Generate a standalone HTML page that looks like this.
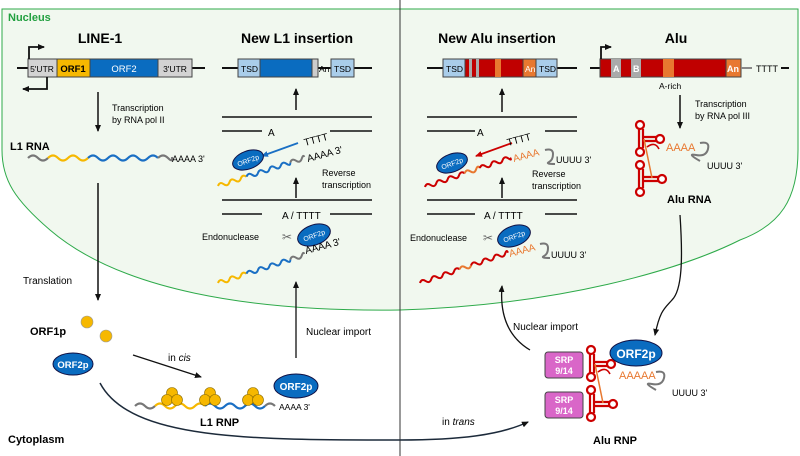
<!DOCTYPE html>
<html><head><meta charset="utf-8"><style>
body{margin:0;background:#fff}
svg{display:block;font-family:"Liberation Sans",Arial,sans-serif}
.b{font-weight:bold}
</style></head><body>
<svg width="800" height="456" viewBox="0 0 800 456" xmlns="http://www.w3.org/2000/svg">
<defs>
<marker id="ah" markerWidth="8" markerHeight="8" refX="6" refY="4" orient="auto" markerUnits="userSpaceOnUse"><path d="M0,1 L7,4 L0,7 z" fill="#111"/></marker>
<marker id="ab" markerWidth="8" markerHeight="8" refX="6" refY="4" orient="auto" markerUnits="userSpaceOnUse"><path d="M0,1 L7,4 L0,7 z" fill="#1a6fc4"/></marker>
<marker id="ar" markerWidth="8" markerHeight="8" refX="6" refY="4" orient="auto" markerUnits="userSpaceOnUse"><path d="M0,1 L7,4 L0,7 z" fill="#c00"/></marker>
</defs>
<!-- nucleus -->
<path d="M2,9 L798,9 L798,150 C798,200 780,225 740,240 C680,270 560,305 400,310 C250,312 120,290 50,230 C15,200 2,180 2,150 Z" fill="#f1f8ef" stroke="#2eaa4a" stroke-width="1"/>
<line x1="400" y1="0" x2="400" y2="456" stroke="#333" stroke-width="1"/>
<text x="8" y="21" class="b" fill="#22a040" font-size="11">Nucleus</text>
<text x="8" y="443" class="b" font-size="11">Cytoplasm</text>

<!-- LINE-1 -->
<text x="100" y="43" class="b" font-size="14" text-anchor="middle">LINE-1</text>
<line x1="17" y1="68" x2="205" y2="68" stroke="#111" stroke-width="2"/>
<rect x="28" y="59" width="29" height="18" fill="#d3d3d3" stroke="#444"/>
<rect x="57" y="59" width="33" height="18" fill="#f6b800" stroke="#444"/>
<rect x="90" y="59" width="68" height="18" fill="#0a6cc0" stroke="#444"/>
<rect x="158" y="59" width="34" height="18" fill="#d3d3d3" stroke="#444"/>
<g font-size="8.5" text-anchor="middle"><text x="42" y="72">5'UTR</text><text x="73" y="72" class="b" font-size="9.5">ORF1</text><text x="124" y="72" fill="#fff" font-size="9.5">ORF2</text><text x="175" y="72">3'UTR</text></g>
<path d="M29,59 V47 H44" fill="none" stroke="#111" stroke-width="1.8" marker-end="url(#ah)"/>
<path d="M47,77 V89 H23" fill="none" stroke="#111" stroke-width="1.8" marker-end="url(#ah)"/>
<line x1="98" y1="92" x2="98" y2="131" stroke="#111" stroke-width="1.5" marker-end="url(#ah)"/>
<g font-size="9"><text x="112" y="111">Transcription</text><text x="112" y="123">by RNA pol II</text></g>
<text x="10" y="150" class="b" font-size="11">L1 RNA</text>
<g fill="none" stroke-width="2.2">
<path d="M28,158 q5,-5 10,0 t10,0" stroke="#777"/>
<path d="M48,158 q5,-5 10,0 t10,0 t10,0 t10,0" stroke="#f6b800"/>
<path d="M88,158 q5,-5 10,0 t10,0 t10,0 t10,0 t10,0 t10,0 t10,0" stroke="#1a6fc4"/>
<path d="M158,158 q5,-5 10,0 t4,-1" stroke="#777"/>
</g>
<text x="172" y="162" font-size="9">AAAA 3'</text>
<line x1="98" y1="183" x2="98" y2="300" stroke="#111" stroke-width="1.5" marker-end="url(#ah)"/>
<text x="23" y="284" font-size="10">Translation</text>
<text x="30" y="335" class="b" font-size="11">ORF1p</text>
<circle cx="87" cy="322" r="6" fill="#f6b800" stroke="#999" stroke-width=".6"/>
<circle cx="106" cy="336" r="6" fill="#f6b800" stroke="#999" stroke-width=".6"/>
<ellipse cx="73" cy="364" rx="20" ry="11" fill="#0a6cc0" stroke="#114"/>
<text x="73" y="368" fill="#fff" font-size="9.5" text-anchor="middle" class="b">ORF2p</text>
<line x1="133" y1="355" x2="201" y2="377" stroke="#111" stroke-width="1.3" marker-end="url(#ah)"/>
<text x="168" y="361" font-size="10">in <tspan font-style="italic">cis</tspan></text>
<!-- L1 RNP -->
<g fill="none" stroke-width="2.2">
<path d="M135,406 q5,-5 10,0 t10,0" stroke="#777"/>
<path d="M155,406 q5,-5 10,0 t10,0 t10,0 t10,0 t10,0" stroke="#f6b800"/>
<path d="M205,406 q5,-5 10,0 t10,0 t10,0 t10,0 t10,0 t10,0" stroke="#1a6fc4"/>
<path d="M265,406 q5,-5 10,0" stroke="#777"/>
</g>
<g fill="#f6b800" stroke="#8a6a00" stroke-width=".6">
<circle cx="172" cy="393" r="5.5"/><circle cx="167" cy="400" r="5.5"/><circle cx="177" cy="400" r="5.5"/>
<circle cx="210" cy="393" r="5.5"/><circle cx="205" cy="400" r="5.5"/><circle cx="215" cy="400" r="5.5"/>
<circle cx="253" cy="393" r="5.5"/><circle cx="248" cy="400" r="5.5"/><circle cx="258" cy="400" r="5.5"/>
</g>
<ellipse cx="296" cy="386" rx="22" ry="12" fill="#0a6cc0" stroke="#114"/>
<text x="296" y="390" fill="#fff" font-size="10" text-anchor="middle" class="b">ORF2p</text>
<text x="279" y="410" font-size="8.5">AAAA 3'</text>
<text x="200" y="426" class="b" font-size="11">L1 RNP</text>
<path d="M100,383 C130,440 250,440 400,440 C460,440 500,435 528,422" fill="none" stroke="#1c2a3a" stroke-width="1.5" marker-end="url(#ah)"/>
<text x="442" y="425" font-size="10">in <tspan font-style="italic">trans</tspan></text>
<line x1="296" y1="358" x2="296" y2="282" stroke="#111" stroke-width="1.3" marker-end="url(#ah)"/>
<text x="306" y="335" font-size="10">Nuclear import</text>

<!-- New L1 insertion -->
<text x="297" y="43" class="b" font-size="14" text-anchor="middle">New L1 insertion</text>
<line x1="222" y1="68" x2="372" y2="68" stroke="#111" stroke-width="2"/>
<rect x="238" y="59" width="22" height="18" fill="#a9cdea" stroke="#444"/>
<rect x="260" y="59" width="52" height="18" fill="#0a6cc0" stroke="#444"/>
<rect x="312" y="59" width="6" height="18" fill="#ccc" stroke="#444"/>
<rect x="331" y="59" width="23" height="18" fill="#a9cdea" stroke="#444"/>
<g font-size="8.5"><text x="241" y="72">TSD</text><text x="319" y="72">An</text><text x="334" y="72">TSD</text></g>
<g stroke="#111" stroke-width="1.5">
<line x1="296" y1="110" x2="296" y2="89" marker-end="url(#ah)"/>
<line x1="222" y1="117" x2="372" y2="117"/><line x1="222" y1="131" x2="262" y2="131"/><line x1="330" y1="131" x2="372" y2="131"/>
<line x1="296" y1="198" x2="296" y2="178" marker-end="url(#ah)"/>
<line x1="222" y1="200" x2="372" y2="200"/><line x1="222" y1="214" x2="262" y2="214"/><line x1="330" y1="214" x2="372" y2="214"/>
</g>
<text x="268" y="136" font-size="10">A</text>
<text x="282" y="219" font-size="10">A / TTTT</text>
<line x1="298" y1="143" x2="262" y2="156" stroke="#1a6fc4" stroke-width="1.8" marker-end="url(#ab)"/>
<text x="305" y="146" font-size="10" transform="rotate(-15 305 146)">TTTT</text>
<text x="308" y="162" font-size="10" transform="rotate(-15 308 162)">AAAA 3'</text>
<g fill="none" stroke-width="2" transform="translate(218,186) rotate(-18)">
<path d="M0,0 q3,-4 6,0 t6,0 t6,0 t6,0 t6,0" stroke="#f6b800"/>
<path d="M30,0 q3,-4 6,0 t6,0 t6,0 t6,0 t6,0 t6,0 t6,0 t4,0" stroke="#1a6fc4"/>
<path d="M76,0 q3,-4 6,0 t6,0 t3,-1" stroke="#777"/>
</g>
<ellipse cx="248" cy="160" rx="16" ry="9" fill="#0a6cc0" stroke="#114" transform="rotate(-20 248 160)"/>
<text x="248" y="163" font-size="7" fill="#fff" text-anchor="middle" transform="rotate(-20 248 160)">ORF2p</text>
<g font-size="9"><text x="322" y="176">Reverse</text><text x="322" y="188">transcription</text></g>
<text x="202" y="240" font-size="9">Endonuclease</text>
<text x="287" y="241" font-size="12" fill="#666" text-anchor="middle">✂</text>
<g fill="none" stroke-width="2" transform="translate(218,283) rotate(-18)">
<path d="M0,0 q3,-4 6,0 t6,0 t6,0 t6,0 t6,0" stroke="#f6b800"/>
<path d="M30,0 q3,-4 6,0 t6,0 t6,0 t6,0 t6,0 t6,0 t6,0 t4,0" stroke="#1a6fc4"/>
<path d="M76,0 q3,-4 6,0 t6,0 t3,-1" stroke="#777"/>
</g>
<ellipse cx="314" cy="235" rx="17" ry="10" fill="#0a6cc0" stroke="#114" transform="rotate(-20 314 235)"/>
<text x="314" y="238" font-size="7" fill="#fff" text-anchor="middle" transform="rotate(-20 314 235)">ORF2p</text>
<text x="306" y="254" font-size="10" transform="rotate(-15 306 254)">AAAA 3'</text>

<!-- New Alu insertion -->
<text x="497" y="43" class="b" font-size="14" text-anchor="middle">New Alu insertion</text>
<line x1="427" y1="68" x2="577" y2="68" stroke="#111" stroke-width="2"/>
<rect x="443" y="59" width="22" height="18" fill="#a9cdea" stroke="#444"/>
<rect x="465" y="59" width="71" height="18" fill="#c00000" stroke="#444"/>
<rect x="469" y="59" width="3" height="18" fill="#aaa"/><rect x="476" y="59" width="3" height="18" fill="#aaa"/>
<rect x="495" y="59" width="6" height="18" fill="#e87830"/>
<rect x="523" y="59" width="13" height="18" fill="#e87830" stroke="#444"/>
<rect x="536" y="59" width="21" height="18" fill="#a9cdea" stroke="#444"/>
<g font-size="8.5"><text x="446" y="72">TSD</text><text x="525" y="72" fill="#fff">An</text><text x="539" y="72">TSD</text></g>
<g stroke="#111" stroke-width="1.5">
<line x1="502" y1="112" x2="502" y2="89" marker-end="url(#ah)"/>
<line x1="427" y1="117" x2="577" y2="117"/><line x1="427" y1="131" x2="475" y2="131"/><line x1="545" y1="131" x2="577" y2="131"/>
<line x1="502" y1="198" x2="502" y2="178" marker-end="url(#ah)"/>
<line x1="427" y1="200" x2="577" y2="200"/><line x1="427" y1="214" x2="475" y2="214"/><line x1="545" y1="214" x2="577" y2="214"/>
</g>
<text x="477" y="136" font-size="10">A</text>
<text x="484" y="219" font-size="10">A / TTTT</text>
<line x1="512" y1="143" x2="476" y2="156" stroke="#c00" stroke-width="1.8" marker-end="url(#ar)"/>
<text x="508" y="146" font-size="10" transform="rotate(-15 508 146)">TTTT</text>
<text x="514" y="162" font-size="10" fill="#e87830" transform="rotate(-15 514 162)">AAAA</text>
<path d="M545,150 q8,-2 8,4 t-4,8 t6,2" fill="none" stroke="#777" stroke-width="2"/>
<text x="556" y="163" font-size="9">UUUU 3'</text>
<g fill="none" stroke-width="2" transform="translate(425,187) rotate(-19)">
<path d="M0,0 q3,-4 6,0 t6,0 t6,0 t6,0 t6,0 t6,0 t6,0" stroke="#c00"/>
<path d="M42,0 q3,-4 6,0 t6,0 t4,0" stroke="#e87830"/>
<path d="M58,0 q3,-4 6,0 t6,0 t6,0 t6,0 t6,0 t2,0" stroke="#c00"/>
</g>
<ellipse cx="452" cy="163" rx="16" ry="9" fill="#0a6cc0" stroke="#114" transform="rotate(-20 452 163)"/>
<text x="452" y="166" font-size="7" fill="#fff" text-anchor="middle" transform="rotate(-20 452 163)">ORF2p</text>
<g font-size="9"><text x="532" y="177">Reverse</text><text x="532" y="189">transcription</text></g>
<text x="410" y="241" font-size="9">Endonuclease</text>
<text x="488" y="242" font-size="12" fill="#666" text-anchor="middle">✂</text>
<ellipse cx="514" cy="236" rx="17" ry="10" fill="#0a6cc0" stroke="#114" transform="rotate(-20 514 236)"/>
<text x="514" y="239" font-size="7" fill="#fff" text-anchor="middle" transform="rotate(-20 514 236)">ORF2p</text>
<g fill="none" stroke-width="2" transform="translate(420,283) rotate(-19)">
<path d="M0,0 q3,-4 6,0 t6,0 t6,0 t6,0 t6,0 t6,0 t6,0" stroke="#c00"/>
<path d="M42,0 q3,-4 6,0 t6,0" stroke="#e87830"/>
<path d="M54,0 q3,-4 6,0 t6,0 t6,0 t6,0 t6,0 t6,0 t3,0" stroke="#c00"/>
</g>
<text x="510" y="257" font-size="10" fill="#e87830" transform="rotate(-15 510 257)">AAAA</text>
<path d="M540,244 q8,-2 8,4 t-4,8 t6,2" fill="none" stroke="#777" stroke-width="2"/>
<text x="551" y="258" font-size="9">UUUU 3'</text>
<path d="M530,350 C505,335 500,310 502,286" fill="none" stroke="#111" stroke-width="1.3" marker-end="url(#ah)"/>
<text x="513" y="330" font-size="10">Nuclear import</text>

<!-- Alu -->
<text x="676" y="43" class="b" font-size="14" text-anchor="middle">Alu</text>
<line x1="590" y1="68" x2="600" y2="68" stroke="#111" stroke-width="2"/>
<rect x="600" y="59" width="141" height="18" fill="#c00000" stroke="#444"/>
<rect x="611" y="59" width="10" height="18" fill="#aaa"/><rect x="631" y="59" width="10" height="18" fill="#aaa"/>
<rect x="663" y="59" width="11" height="18" fill="#e87830"/>
<rect x="726" y="59" width="15" height="18" fill="#e87830" stroke="#444"/>
<g font-size="9" fill="#fff" class="b"><text x="613" y="72">A</text><text x="633" y="72">B</text><text x="727" y="72">An</text></g>
<line x1="741" y1="68" x2="752" y2="68" stroke="#888" stroke-width="2"/>
<text x="756" y="72" font-size="9">TTTT</text>
<line x1="781" y1="68" x2="789" y2="68" stroke="#111" stroke-width="2"/>
<path d="M601,59 V47 H611" fill="none" stroke="#111" stroke-width="1.8" marker-end="url(#ah)"/>
<text x="659" y="89" font-size="8.5">A-rich</text>
<line x1="680" y1="95" x2="680" y2="128" stroke="#111" stroke-width="1.5" marker-end="url(#ah)"/>
<g font-size="9"><text x="695" y="107">Transcription</text><text x="695" y="119">by RNA pol III</text></g>
<!-- Alu RNA structure -->
<g fill="none" stroke="#c00" stroke-width="2.2">
<path d="M639,129 V148 M643,129 V148 M643,137 H656 M643,141 H656"/>
<circle cx="640" cy="125" r="4" fill="#fff"/><circle cx="660" cy="139" r="4" fill="#fff"/><circle cx="640" cy="152" r="4" fill="#fff"/>
<path d="M639,169 V188 M643,169 V188 M643,177 H658 M643,181 H658"/>
<circle cx="640" cy="165" r="4" fill="#fff"/><circle cx="662" cy="179" r="4" fill="#fff"/><circle cx="640" cy="192" r="4" fill="#fff"/>
<path d="M647,147 q8,-6 12,2" stroke-width="1.6"/>
</g>
<line x1="644" y1="139" x2="652" y2="178" stroke="#e87830" stroke-width="1.5"/>
<text x="666" y="151" font-size="11" fill="#e87830">AAAA</text>
<path d="M700,143 q10,-2 8,6 t-12,6 t4,6" fill="none" stroke="#777" stroke-width="2"/>
<text x="707" y="169" font-size="9">UUUU 3'</text>
<text x="667" y="203" class="b" font-size="11">Alu RNA</text>
<path d="M680,215 C683,260 682,290 672,300 C665,308 660,310 655,335" fill="none" stroke="#111" stroke-width="1.3" marker-end="url(#ah)"/>

<!-- Alu RNP -->
<rect x="545" y="352" width="38" height="26" rx="3" fill="#d966c8" stroke="#444"/>
<rect x="545" y="392" width="38" height="26" rx="3" fill="#d966c8" stroke="#444"/>
<g font-size="9" fill="#fff" text-anchor="middle" class="b"><text x="564" y="363">SRP</text><text x="564" y="374">9/14</text><text x="564" y="403">SRP</text><text x="564" y="414">9/14</text></g>
<g fill="none" stroke="#c00" stroke-width="2.2">
<path d="M590,354 V373 M594,354 V373 M594,362 H607 M594,366 H607"/>
<circle cx="591" cy="350" r="4" fill="#fff"/><circle cx="611" cy="364" r="4" fill="#fff"/><circle cx="591" cy="377" r="4" fill="#fff"/>
<path d="M590,394 V413 M594,394 V413 M594,402 H609 M594,406 H609"/>
<circle cx="591" cy="390" r="4" fill="#fff"/><circle cx="613" cy="404" r="4" fill="#fff"/><circle cx="591" cy="417" r="4" fill="#fff"/>
<path d="M598,372 q8,-6 12,2" stroke-width="1.6"/>
</g>
<line x1="595" y1="364" x2="603" y2="403" stroke="#e87830" stroke-width="1.5"/>
<ellipse cx="636" cy="353" rx="26" ry="13" fill="#0a6cc0" stroke="#114"/>
<text x="636" y="358" fill="#fff" font-size="12" text-anchor="middle" class="b">ORF2p</text>
<text x="619" y="379" font-size="11" fill="#e87830">AAAAA</text>
<path d="M656,372 q10,-2 8,6 t-12,6 t4,6" fill="none" stroke="#777" stroke-width="2"/>
<text x="672" y="396" font-size="9">UUUU 3'</text>
<text x="593" y="444" class="b" font-size="11">Alu RNP</text>
</svg>
</body></html>
